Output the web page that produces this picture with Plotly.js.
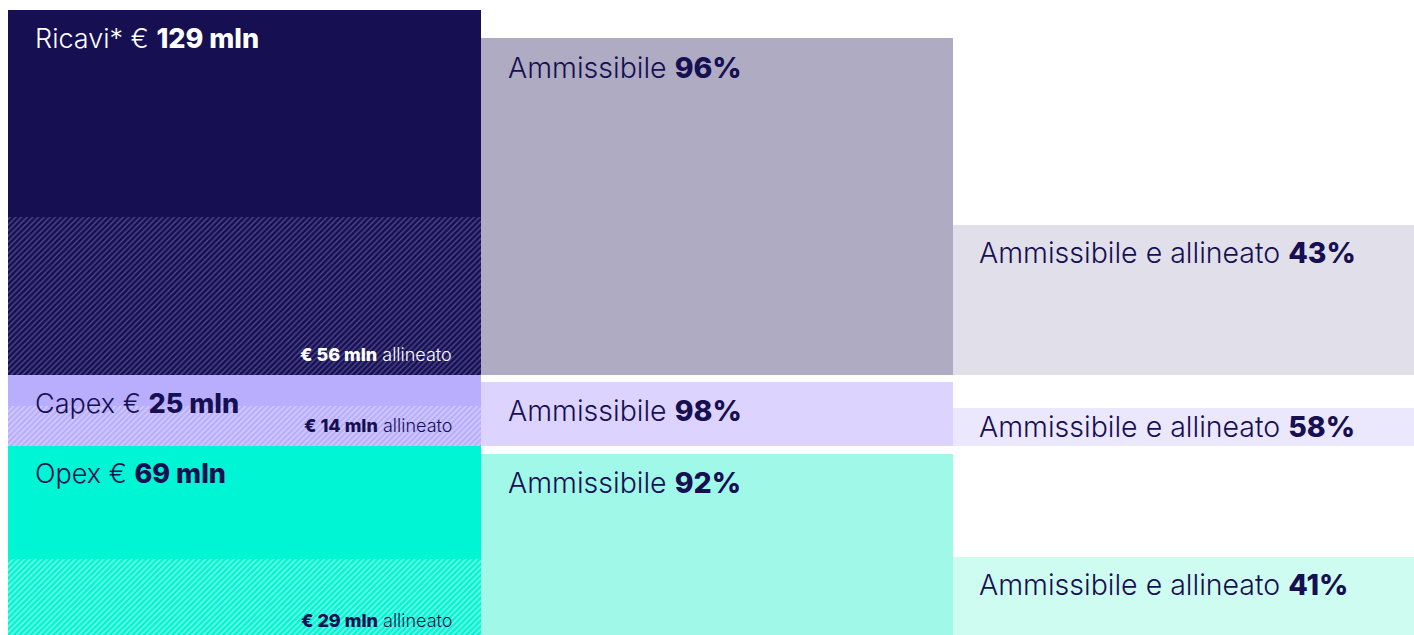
<!DOCTYPE html>
<html>
<head>
<meta charset="utf-8">
<script src="https://cdn.plot.ly/plotly-3.0.1.min.js"></script>
<style>html,body{margin:0;padding:0;background:#fff;overflow:hidden;}#chart{width:1414px;height:641px;}</style>
</head>
<body>
<div id="chart"></div>
<script>
// Rows (top to bottom as drawn: Ricavi, Capex, Opex)
const categories = ["Ricavi*", "Capex", "Opex"];
const totalMln = [129, 25, 69];            // € mln
const allineatoMln = [56, 14, 29];         // € mln aligned
const ammissibilePct = [96, 98, 92];       // %
const ammAllineatoPct = [43, 58, 41];      // %
// bar heights (€ mln units)
const ammissibileBar = [119, 22.7, 66.2];
const ammAllineatoBar = [53.1, 13.45, 29.7];

// stacking bases (rows stacked, Opex at bottom)
const base = [totalMln[1] + totalMln[2], totalMln[2], 0];

const col1Color = ["#160f52", "#b9aefd", "#00f5d4"];
const col1Hatch = ["#4f4a8c", "#d6cffe", "#86fae8"];
const col2Color = ["#aeabc3", "#dcd4ff", "#9ff8e8"];
const col3Color = ["#e1e0ea", "#ebe8fe", "#cffcf1"];
const labelColor = ["#ffffff", "#160f52", "#160f52"];
const navy = "#160f52";

function col(xc, h, colors) {
  return {
    type: "bar", x: categories.map(() => xc), y: h, base: base, width: 1,
    marker: {color: colors, line: {width: 0}},
    hoverinfo: "skip", showlegend: false
  };
}

const traces = [
  col(0.5, totalMln, col1Color),
  col(1.5, ammissibileBar, col2Color),
  col(2.5, ammAllineatoBar, col3Color)
];
categories.forEach((c, i) => {
  traces.push({
    type: "bar", x: [0.5], y: [allineatoMln[i]], base: [base[i]], width: 1,
    marker: {color: col1Color[i], line: {width: 0},
      pattern: {shape: "/", fgcolor: col1Hatch[i], fgopacity: 1, size: 4, solidity: 0.35, fillmode: "overlay"}},
    hoverinfo: "skip", showlegend: false
  });
});

const font = "Inter, 'Noto Sans', sans-serif";
const B = s => '<span style="font-weight:800">' + s + '</span>';
const pxPerUnit = 631 / 223;
const annotations = [];
categories.forEach((c, i) => {
  const topTot = base[i] + totalMln[i];
  annotations.push({x: 0, y: topTot, xref: "x", yref: "y", xanchor: "left", yanchor: "middle",
    xshift: 25, yshift: -28, showarrow: false,
    text: c + " € " + B(totalMln[i] + " mln"),
    font: {family: font, size: 27, color: labelColor[i], weight: 300}});
  annotations.push({x: 1, y: base[i] + 0.01, xref: "x", yref: "y", xanchor: "right", yanchor: "middle",
    xshift: -27, yshift: 20, showarrow: false,
    text: B("€ " + allineatoMln[i] + " mln") + " allineato",
    font: {family: font, size: 18, color: labelColor[i], weight: 300}});
  const top2 = base[i] + ammissibileBar[i];
  annotations.push({x: 1, y: top2, xref: "x", yref: "y", xanchor: "left", yanchor: "middle",
    xshift: 25, yshift: -29, showarrow: false,
    text: "Ammissibile " + B(ammissibilePct[i] + "%"),
    font: {family: font, size: 28.5, color: navy, weight: 300}});
  const top3 = base[i] + ammAllineatoBar[i];
  const hpx = ammAllineatoBar[i] * pxPerUnit;
  annotations.push({x: 2, y: top3, xref: "x", yref: "y", xanchor: "left", yanchor: "middle",
    xshift: 24, yshift: -Math.min(28, hpx / 2), showarrow: false,
    text: "Ammissibile e allineato " + B(ammAllineatoPct[i] + "%"),
    font: {family: font, size: 28.5, color: navy, weight: 300}});
});

const layout = {
  width: 1414, height: 641,
  margin: {l: 8, r: 0, t: 10, b: 0, pad: 0},
  paper_bgcolor: "#ffffff", plot_bgcolor: "#ffffff",
  barmode: "overlay", bargap: 0,
  xaxis: {range: [0, 1406 / 472.5], visible: false, fixedrange: true},
  yaxis: {range: [0, 223], visible: false, fixedrange: true},
  annotations: annotations,
  showlegend: false
};

Plotly.newPlot("chart", traces, layout, {displayModeBar: false, staticPlot: true});
</script>
</body>
</html>
